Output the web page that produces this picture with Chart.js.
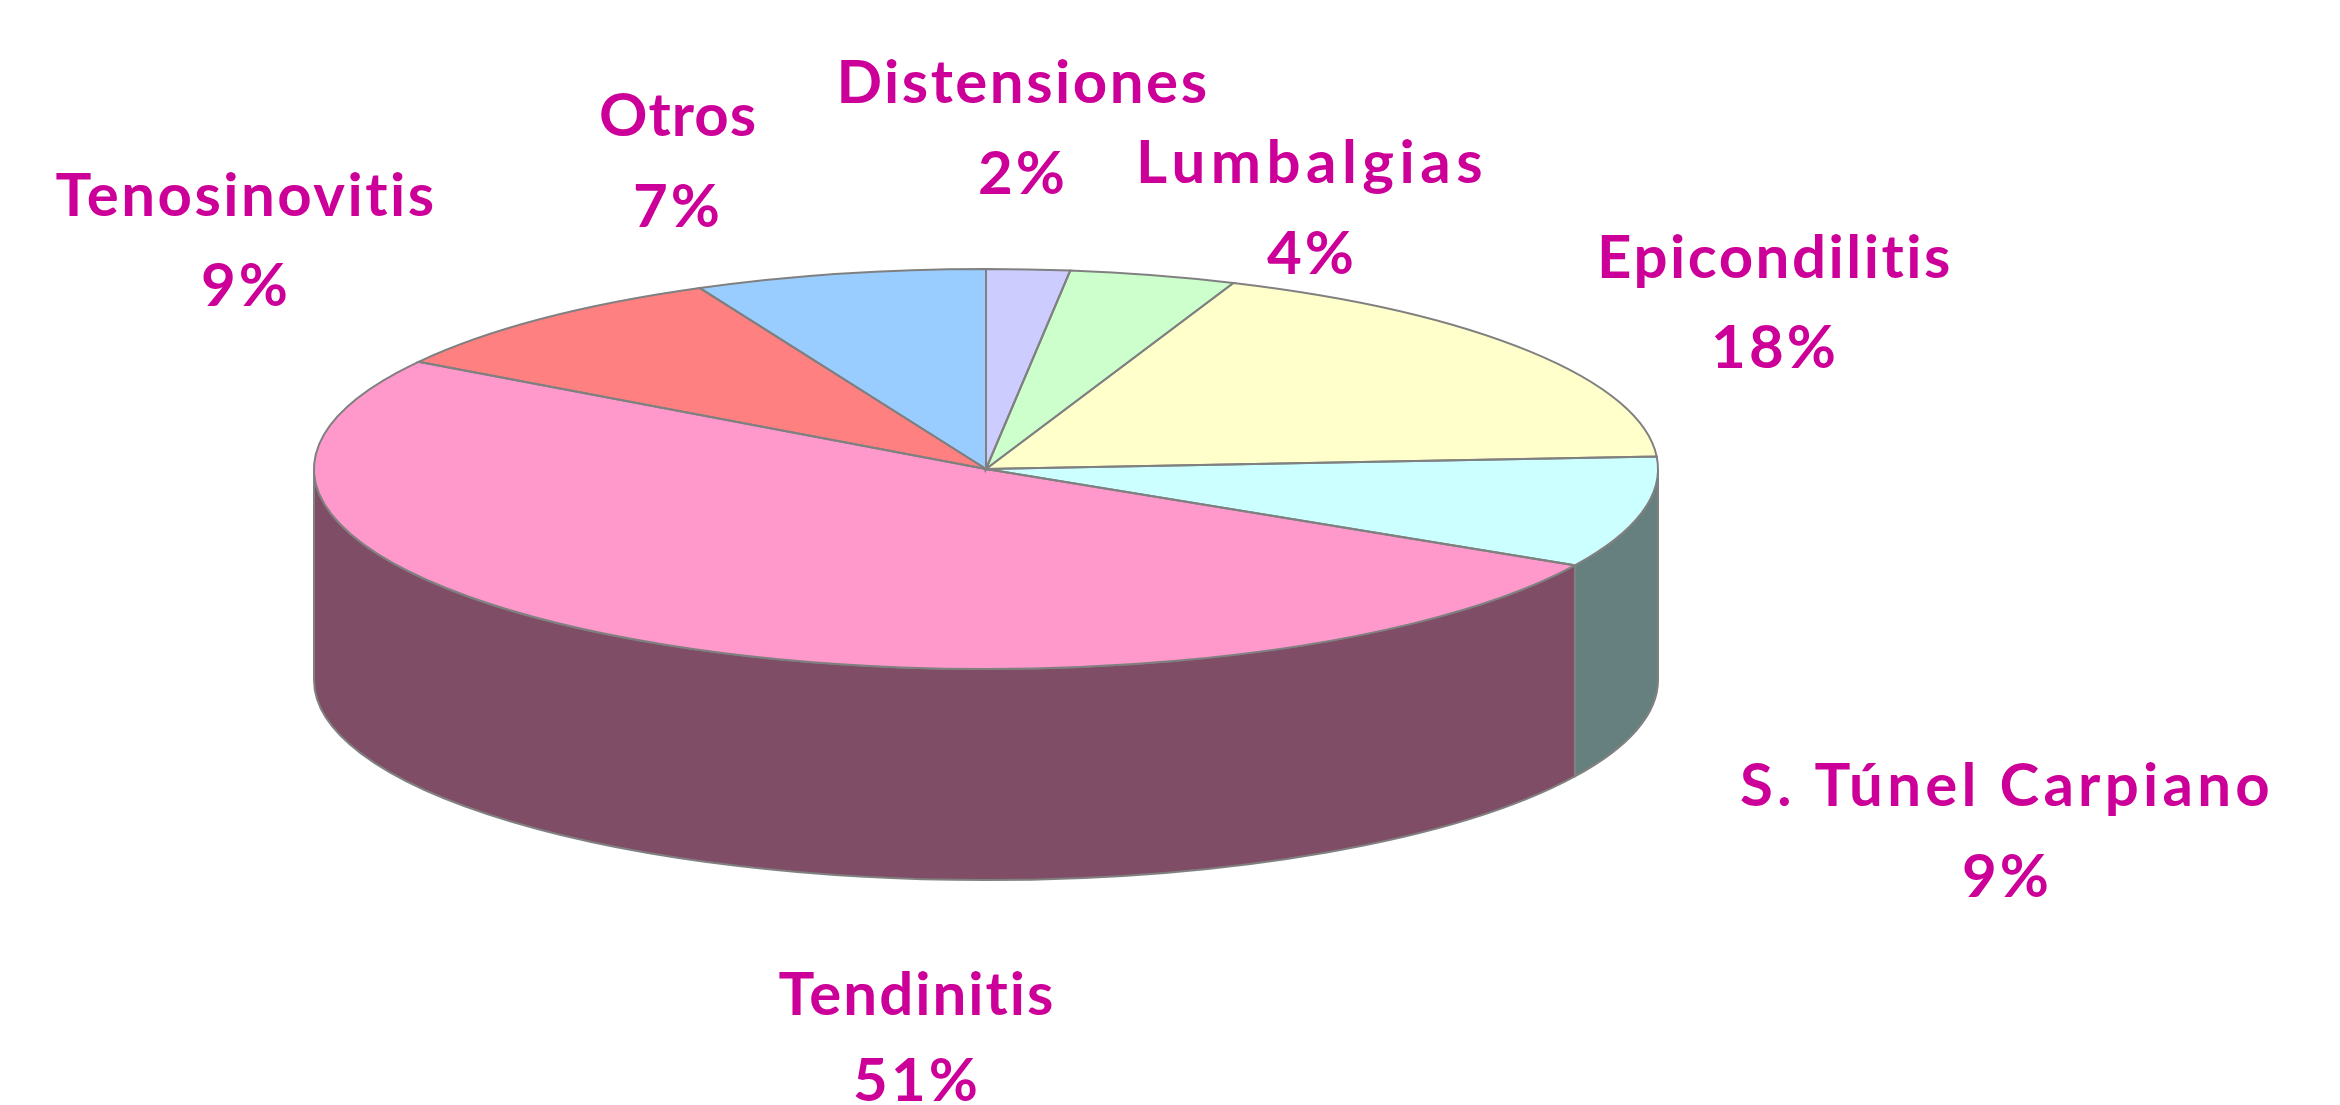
<!DOCTYPE html>
<html>
<head>
<meta charset="utf-8">
<title>Lesiones</title>
<style>
  html, body { margin: 0; background: #fff; }
  #wrap { width: 2340px; height: 1105px; }
</style>
<script src="https://cdn.jsdelivr.net/npm/chart.js@4/dist/chart.umd.min.js"></script>
</head>
<body>
<div id="wrap"><canvas id="pieChart"></canvas></div>
<script>
const categorias = ['Distensiones', 'Lumbalgias', 'Epicondilitis', 'S. Túnel Carpiano', 'Tendinitis', 'Tenosinovitis', 'Otros'];
const valores = [2, 4, 18, 9, 51, 9, 7];
const colores = ['#CCCCFF', '#CCFFCC', '#FFFFCC', '#CCFFFF', '#FF99CC', '#FF8080', '#99CCFF'];
const coloresLado = ['#666680', '#668066', '#808066', '#668080', '#804D66', '#804040', '#4D6680'];

// centro x, base del nombre, base del porcentaje, ancho del nombre
const posEtiquetas = [
    [1023, 103, 194, 373],
    [1312, 183, 274, 352],
    [1775, 278, 368, 357],
    [2007, 806, 897, 534],
    [917, 1015, 1101, 278],
    [246, 216, 306, 382],
    [678, 136, 227, 158]
];

const radioX = 672;
const radioY = 200;
const alto3d = 211;
const colorLinea = '#808080';
const colorTexto = '#CC0099';

// aplasta el pie en una elipse
function aplicarElipse(ctx, arc) {
    const k = arc.outerRadius;
    ctx.translate(arc.x, arc.y);
    ctx.scale(radioX / k, radioY / k);
    ctx.translate(-arc.x, -arc.y);
}

const pie3d = {
    id: 'pie3d',
    beforeDatasetsDraw(chart) {
        const ctx = chart.ctx;
        const arcos = chart.getDatasetMeta(0).data;
        ctx.save();
        ctx.lineWidth = 2;
        ctx.strokeStyle = colorLinea;
        arcos.forEach((arc, i) => {
            const ini = Math.max(arc.startAngle, 0);
            const fin = Math.min(arc.endAngle, Math.PI);
            if (fin <= ini) return;
            ctx.beginPath();
            ctx.ellipse(arc.x, arc.y, radioX, radioY, 0, ini, fin);
            ctx.ellipse(arc.x, arc.y + alto3d, radioX, radioY, 0, fin, ini, true);
            ctx.closePath();
            ctx.fillStyle = coloresLado[i];
            ctx.fill();
            ctx.stroke();
        });
        ctx.restore();
        ctx.save();
        aplicarElipse(ctx, arcos[0]);
    },
    afterDatasetsDraw(chart) {
        const ctx = chart.ctx;
        ctx.restore();
        // bordes aparte para que la escala no deforme el grosor
        chart.getDatasetMeta(0).data.forEach(arc => {
            ctx.save();
            aplicarElipse(ctx, arc);
            ctx.beginPath();
            ctx.moveTo(arc.x, arc.y);
            ctx.arc(arc.x, arc.y, arc.outerRadius, arc.startAngle, arc.endAngle);
            ctx.closePath();
            ctx.restore();
            ctx.lineWidth = 2;
            ctx.strokeStyle = colorLinea;
            ctx.stroke();
        });
    },
    afterDraw(chart) {
        const ctx = chart.ctx;
        ctx.save();
        ctx.fillStyle = colorTexto;
        ctx.textAlign = 'center';
        ctx.textBaseline = 'alphabetic';
        ctx.font = 'bold 60px Lato';
        categorias.forEach((nombre, i) => {
            const p = posEtiquetas[i];
            // ajusta el espaciado al ancho medido en la referencia
            ctx.letterSpacing = '0px';
            const sobra = p[3] - ctx.measureText(nombre).width;
            ctx.letterSpacing = (sobra / nombre.length) + 'px';
            ctx.fillText(nombre, p[0], p[1]);
            ctx.letterSpacing = '3px';
            ctx.fillText(valores[i] + '%', p[0], p[2]);
        });
        ctx.restore();
    }
};

const pieCtx = document.getElementById('pieChart').getContext('2d');
new Chart(pieCtx, {
    type: 'pie',
    data: {
        labels: categorias,
        datasets: [{
            data: valores,
            backgroundColor: colores,
            borderWidth: 0,
            clip: false
        }]
    },
    options: {
        responsive: true,
        maintainAspectRatio: false,
        animation: false,
        events: [],
        layout: {
            padding: { left: 0, top: 0, right: 368, bottom: 167 }
        },
        plugins: {
            legend: { display: false },
            tooltip: { enabled: false }
        }
    },
    plugins: [pie3d]
});
</script>
</body>
</html>
